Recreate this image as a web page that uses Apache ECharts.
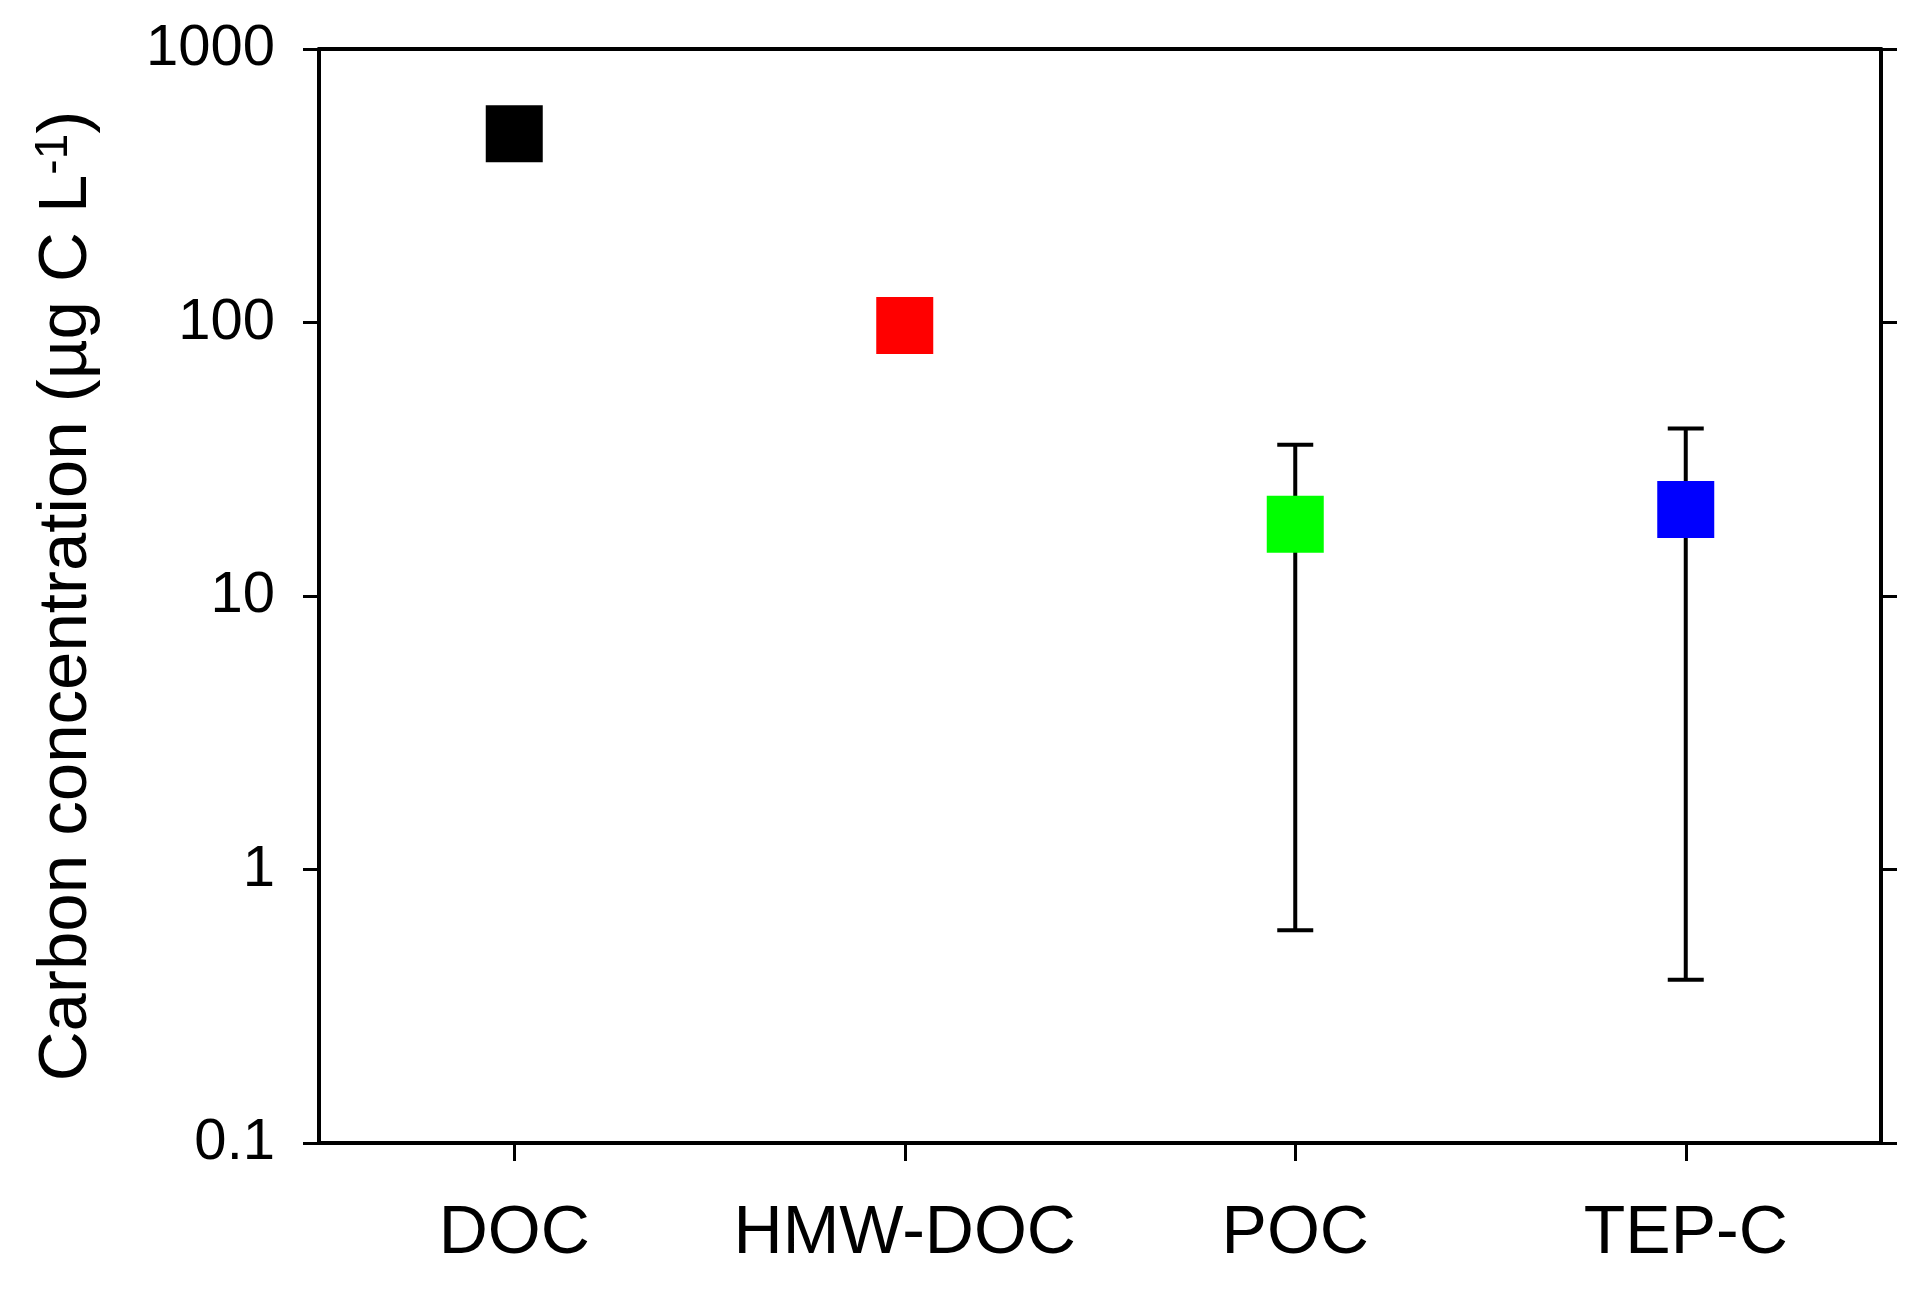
<!DOCTYPE html>
<html>
<head>
<meta charset="utf-8">
<script src="https://cdn.jsdelivr.net/npm/echarts@6/dist/echarts.min.js"></script>
<style>html,body{margin:0;padding:0;background:#fff}#c{width:1920px;height:1297px}</style>
</head>
<body>
<div id="c"></div>
<script>
const categories = ['DOC', 'HMW-DOC', 'POC', 'TEP-C'];
const values = [490, 97.5, 18.3, 20.7];
const errLow = [null, null, 0.60, 0.395];
const errHigh = [null, null, 35.7, 41.0];
const colors = ['#000000', '#ff0000', '#00ff00', '#0000ff'];
const yTicks = [0.1, 1, 10, 100, 1000];

const FONT = '"Liberation Sans", Arial, sans-serif';
const chart = echarts.init(document.getElementById('c'), null, {renderer: 'canvas'});

const errData = [];
categories.forEach((c, i) => {
  if (errLow[i] != null) errData.push([i, errLow[i], errHigh[i]]);
});

const axisLineStyle = {color: '#000', width: 4};

chart.setOption({
  animation: false,
  backgroundColor: '#fff',
  grid: {left: 319, right: 39, top: 49, bottom: 154, containLabel: false},
  xAxis: [
    {
      type: 'category', data: categories, position: 'bottom',
      boundaryGap: true,
      axisLine: {show: true, lineStyle: axisLineStyle},
      axisTick: {show: true, alignWithLabel: true, interval: 0, inside: false, length: 18, lineStyle: {color: '#000', width: 3}},
      axisLabel: {color: '#000', fontFamily: FONT, fontSize: 68, margin: 57, interval: 0},
      splitLine: {show: false}
    },
    {
      type: 'category', data: categories, position: 'top',
      axisLine: {show: true, lineStyle: axisLineStyle},
      axisTick: {show: false}, axisLabel: {show: false}, splitLine: {show: false}
    }
  ],
  yAxis: [
    {
      type: 'log', logBase: 10, min: 0.1, max: 1000, interval: 1, position: 'left',
      axisLine: {show: true, lineStyle: axisLineStyle},
      axisTick: {show: true, inside: false, length: 16, lineStyle: {color: '#000', width: 3}},
      axisLabel: {color: '#000', fontFamily: FONT, fontSize: 58, margin: 44,
        formatter: v => { const t = yTicks.find(x => Math.abs(x - v) / x < 1e-6); return t != null ? String(t) : ''; }},
      splitLine: {show: false},
      name: '{a|Carbon concentration (µg C L}{s|-1}{a|)}',
      nameLocation: 'middle', nameGap: 216, nameRotate: 90,
      nameTextStyle: {
        color: '#000', fontFamily: FONT, fontSize: 69,
        rich: {
          a: {fontFamily: FONT, fontSize: 69, color: '#000'},
          s: {fontFamily: FONT, fontSize: 46, color: '#000', verticalAlign: 'top', lineHeight: 72, padding: [0, 0, 30, 0]}
        }
      }
    },
    {
      type: 'log', logBase: 10, min: 0.1, max: 1000, interval: 1, position: 'right',
      axisLine: {show: true, lineStyle: axisLineStyle},
      axisTick: {show: true, inside: false, length: 16, lineStyle: {color: '#000', width: 3}},
      axisLabel: {show: false}, splitLine: {show: false}
    }
  ],
  series: [
    {
      type: 'custom', xAxisIndex: 0, yAxisIndex: 0, z: 2,
      data: errData,
      renderItem: function (params, api) {
        const x = api.value(0);
        const lo = api.coord([x, api.value(1)]);
        const hi = api.coord([x, api.value(2)]);
        const hw = 18;
        const style = {stroke: '#000', lineWidth: 4};
        return {
          type: 'group',
          children: [
            {type: 'line', shape: {x1: lo[0], y1: lo[1], x2: hi[0], y2: hi[1]}, style: style},
            {type: 'line', shape: {x1: lo[0] - hw, y1: lo[1], x2: lo[0] + hw, y2: lo[1]}, style: style},
            {type: 'line', shape: {x1: hi[0] - hw, y1: hi[1], x2: hi[0] + hw, y2: hi[1]}, style: style}
          ]
        };
      }
    },
    {
      type: 'scatter', xAxisIndex: 0, yAxisIndex: 0, z: 5,
      symbol: 'rect', symbolSize: 57,
      itemStyle: {opacity: 1},
      data: values.map((v, i) => ({value: [i, v], itemStyle: {color: colors[i], opacity: 1}}))
    }
  ]
});
</script>
</body>
</html>
